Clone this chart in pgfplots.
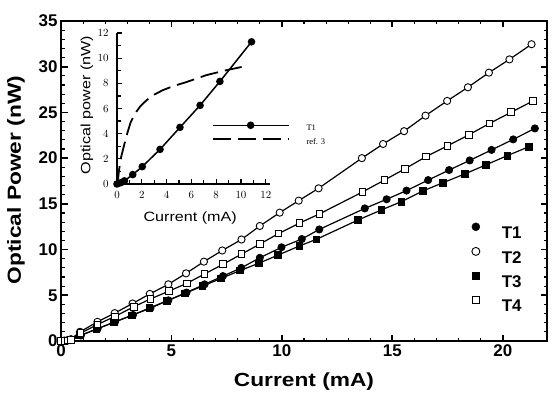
\documentclass[border=0pt]{standalone}
\usepackage{fontspec}
\setmainfont{Liberation Serif}
\setsansfont{Liberation Sans}
\usepackage{graphicx}
\usepackage{pgfplots}
\pgfplotsset{compat=1.18}

\newcommand{\bigsans}{\sffamily\bfseries\fontsize{17}{17}\selectfont}

\begin{document}
\begin{tikzpicture}
\useasboundingbox (0,0) rectangle (554bp,394bp);

% ---------------- main L-I curves ----------------
\begin{axis}[
  at={(61bp,53bp)}, anchor=south west,
  scale only axis, width=486bp, height=320bp,
  xmin=0, xmax=22, ymin=0, ymax=35,
  xtick={0,5,...,20}, ytick={0,5,...,35},
  minor x tick num=4, minor y tick num=4,
  tick align=inside,
  major tick length=6.5bp, minor tick length=3.5bp,
  axis line style={line width=2.2bp},
  major tick style={line width=1.8bp, black},
  minor tick style={line width=1.1bp, black},
  tick label style={font=\bigsans},
  /pgf/number format/assume math mode=true,
  xlabel={\scalebox{1.2}[1]{Current (mA)}},
  ylabel={\scalebox{1.2}[1]{Optical Power (nW)}},
  label style={font=\sffamily\bfseries\fontsize{19}{19}\selectfont},
  xlabel style={at={(axis description cs:0.5,-0.128)}, anchor=center},
  ylabel style={at={(axis description cs:-0.0926,0.503)}, anchor=center},
  legend style={draw=none, fill=none, font=\bigsans,
    at={(axis description cs:0.845,0.37)}, anchor=north west,
    inner sep=0pt, row sep=8.6bp,
    nodes={inner sep=0pt, text height=12bp, text depth=0bp},
    /tikz/every odd column/.append style={column sep=22bp}},
  legend cell align=left,
  legend image code/.code={\draw[#1] plot coordinates {(0bp,6bp)};},
]
% T1
\addplot[forget plot, black, line width=1.2bp, mark=*, mark size=3.6bp, mark options={fill=black, line width=0.8bp}] coordinates {
 (0,0) (0.15,0.02) (0.3,0.05) (0.45,0.1) (0.9,0.6) (1.66,1.35) (2.45,2.1)
 (3.26,2.85) (4.05,3.6) (4.86,4.45) (5.68,5.3) (6.5,6.2) (7.33,7.1)
 (8.16,8.0) (9.0,9.1) (9.98,10.25) (10.9,11.15) (11.69,12.2) (13.75,14.5)
 (14.74,15.5) (15.64,16.45) (16.62,17.6) (17.57,18.7) (18.5,19.75)
 (19.49,20.9) (20.47,22.05) (21.45,23.25)};
% T2
\addplot[forget plot, black, line width=1.2bp, mark=*, mark size=3.6bp, mark options={fill=white, line width=0.9bp}] coordinates {
 (0,0) (0.15,0.04) (0.3,0.1) (0.45,0.2) (0.86,1.0) (1.65,2.1) (2.43,3.05)
 (3.24,4.1) (4.02,5.15) (4.86,6.2) (5.66,7.4) (6.47,8.68) (7.3,9.9)
 (8.17,11.1) (9.0,12.58) (9.9,14.04) (10.76,15.35) (11.66,16.7) (13.62,20.0)
 (14.58,21.55) (15.53,22.95) (16.5,24.65) (17.48,26.26) (18.42,27.75)
 (19.37,29.35) (20.3,30.8) (21.3,32.46)};
% T3
\addplot[forget plot, black, line width=1.2bp, mark=square*, mark size=3.3bp, mark options={fill=black, line width=0.8bp}] coordinates {
 (0,0) (0.15,0.02) (0.3,0.05) (0.45,0.1) (0.85,0.6) (1.6,1.3) (2.4,2.05)
 (3.2,2.8) (4.0,3.6) (4.8,4.4) (5.6,5.2) (6.4,6.0) (7.25,6.85) (8.1,7.7)
 (8.95,8.5) (9.83,9.4) (10.8,10.4) (11.57,11.13) (13.45,13.24) (14.5,14.33)
 (15.41,15.24) (16.37,16.4) (17.3,17.32) (18.28,18.27) (19.23,19.26)
 (20.2,20.27) (21.19,21.26)};
% T4
\addplot[forget plot, black, line width=1.2bp, mark=square*, mark size=3.3bp, mark options={fill=white, line width=0.9bp}] coordinates {
 (0,0) (0.15,0.03) (0.3,0.07) (0.45,0.12) (0.88,0.85) (1.65,1.8) (2.45,2.7)
 (3.3,3.75) (4.05,4.6) (4.88,5.45) (5.69,6.3) (6.5,7.33) (7.34,8.4)
 (8.17,9.5) (9.0,10.6) (9.85,11.75) (10.8,12.9) (11.7,13.9) (13.65,16.3)
 (14.64,17.6) (15.56,18.82) (16.53,20.17) (17.5,21.35) (18.47,22.56)
 (19.4,23.8) (20.38,25.02) (21.37,26.26)};

\addlegendimage{only marks, black, mark=*, mark size=4bp, mark options={fill=black}}
\addlegendentry{T1}
\addlegendimage{only marks, black, mark=*, mark size=4bp, mark options={fill=white, line width=0.9bp}}
\addlegendentry{T2}
\addlegendimage{only marks, black, mark=square*, mark size=3.6bp, mark options={fill=black}}
\addlegendentry{T3}
\addlegendimage{only marks, black, mark=square*, mark size=3.6bp, mark options={fill=white, line width=0.9bp}}
\addlegendentry{T4}
\end{axis}

% ---------------- inset: T1 compared with ref. 3 ----------------
\begin{axis}[
  at={(117bp,210bp)}, anchor=south west,
  scale only axis, width=152.5bp, height=151bp,
  xmin=0, xmax=12.3, ymin=0, ymax=12,
  axis x line*=bottom, axis y line*=left,
  axis line style={line width=1.6bp, -},
  xtick={0,2,...,12}, ytick={0,2,...,12},
  minor x tick num=1, minor y tick num=1,
  xtick align=inside, ytick align=inside,
  major tick length=5bp, minor tick length=3.5bp,
  every tick/.style={black, line width=1.3bp},
  tick label style={font=\rmfamily\fontsize{11}{11}\selectfont},
  xticklabel style={yshift=-4bp},
  yticklabel style={xshift=-5bp},
  xlabel={\scalebox{1.2}[1]{Current (mA)}},
  ylabel={\scalebox{1.2}[1]{Optical power (nW)}},
  label style={font=\sffamily\fontsize{13.5}{13.5}\selectfont},
  xlabel style={at={(axis description cs:0.48,-0.225)}, anchor=center},
  ylabel style={at={(axis description cs:-0.197,0.523)}, anchor=center},
  legend style={draw=none, fill=none, font=\rmfamily\fontsize{8.5}{8.5}\selectfont,
    at={(axis description cs:0.62,0.41)}, anchor=north west,
    inner sep=0pt, row sep=5bp,
    nodes={inner sep=0pt, text height=7bp, text depth=2bp},
    /tikz/every odd column/.append style={column sep=17bp}},
  legend cell align=left,
  legend image code/.code={\draw[mark repeat=2,mark phase=2,#1] plot coordinates {(0bp,3bp) (38bp,3bp) (76bp,3bp)};},
]
\addplot[black, line width=1.5bp, mark=*, mark size=3bp] coordinates {
 (0,0) (0.3,0.1) (0.6,0.25) (1.27,0.75) (2.04,1.38) (3.47,2.75)
 (5.08,4.5) (6.7,6.25) (8.3,8.15) (10.85,11.3)};
\addlegendentry{T1}
\addplot[black, line width=1.8bp, dash pattern=on 18bp off 7bp] coordinates {
 (0.05,0) (0.15,1.0) (0.3,2.0) (0.55,3.0) (0.85,4.1) (1.1,4.9) (1.45,5.6)
 (1.9,6.2) (2.4,6.67) (3.0,7.1) (3.7,7.46) (4.6,7.8) (5.6,8.1) (7.2,8.65)
 (8.85,9.05) (10.05,9.3)};
\addlegendentry{ref. 3}
\end{axis}
\end{tikzpicture}
\end{document}
